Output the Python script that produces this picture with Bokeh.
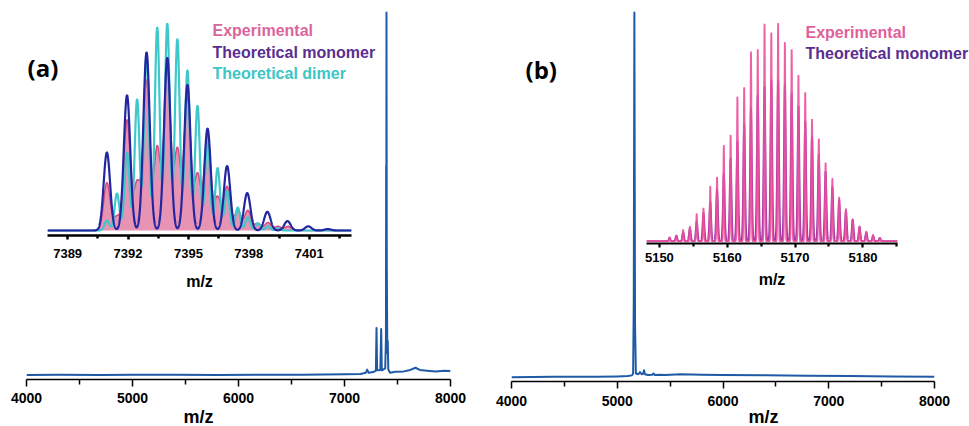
import numpy as np
from bokeh.plotting import figure
from bokeh.models import GridBox, Label, FixedTicker, Range1d
from bokeh.embed import file_html
from bokeh.resources import INLINE

# ---------------- data ----------------
# full-range spectra (relative intensity, %)
main_a_mz = [4000, 4300, 4700, 5000, 5400, 5800, 6200, 6600, 7000, 7150, 7200, 7214, 7228, 7270,
             7296, 7302, 7308, 7338, 7346, 7352, 7384, 7391, 7393, 7394.5, 7396, 7399,
             7404, 7408, 7413, 7430, 7480, 7560, 7620, 7670, 7710, 7780, 7860, 7940, 8000]
main_a_int = [0.0, 0.1, 0.0, 0.1, 0.1, 0.0, 0.1, 0.1, 0.2, 0.3, 0.6, 1.5, 0.6, 0.8,
              1.2, 13, 1.3, 1.4, 12.7, 1.3, 1.8, 10, 57.7, 25, 100, 30,
              6, 9.4, 1.5, 0.6, 0.9, 1.0, 1.4, 2.0, 1.4, 1.2, 1.0, 1.2, 1.1]

main_b_mz = [4000, 4400, 4800, 5000, 5100, 5140, 5150, 5156, 5162, 5168, 5176, 5200, 5215, 5230,
             5245, 5253, 5262, 5290, 5330, 5342, 5355, 5400, 5450, 5500, 5600, 5800, 6000,
             6400, 6800, 7200, 7600, 8000]
main_b_int = [0.0, 0.1, 0.1, 0.2, 0.3, 0.5, 1.0, 20, 100, 15, 1.0, 0.8, 1.4, 0.8,
              1.0, 1.9, 0.8, 0.6, 0.7, 1.0, 0.6, 0.7, 0.6, 0.7, 0.8, 0.7, 0.6,
              0.5, 0.4, 0.3, 0.2, 0.1]

main_ticks = [4000, 5000, 6000, 7000, 8000]
main_minor = [4500, 5500, 6500, 7500]

# inset (a): isotope peaks (centre m/z, relative height %)
a_exp_mz = [7390.95, 7391.45, 7391.95, 7392.45, 7392.92, 7393.45, 7393.95, 7394.45, 7394.95,
            7395.45, 7395.95, 7396.45, 7396.92, 7397.45, 7397.95, 7398.45, 7398.95, 7399.45, 7399.95]
a_exp_int = [23, 6.7, 53, 23, 72, 40, 78, 39, 64, 27, 46, 16, 21, 9.6, 9.6, 3.4, 3.8, 2, 2]

a_mono_mz = [7390.95, 7391.95, 7392.92, 7393.95, 7394.95, 7395.95, 7396.92, 7397.92,
             7398.92, 7399.92, 7400.95, 7401.92]
a_mono_int = [37.5, 65, 85.6, 83, 70, 49, 31, 18, 9, 4.5, 2, 0.7]

a_dimer_mz = [7390.95, 7391.45, 7391.95, 7392.45, 7392.92, 7393.45, 7393.95, 7394.45, 7394.95,
              7395.45, 7395.95, 7396.45, 7396.92, 7397.45, 7397.95, 7398.45, 7398.95, 7399.45]
a_dimer_int = [4.8, 17.8, 37.5, 63, 85, 97.6, 99.5, 92, 77, 60, 44, 30, 19, 11, 6.3, 3.4, 2, 1]

a_ticks = [7389, 7392, 7395, 7398, 7401]
a_minor = [7390.5, 7393.5, 7396.5, 7399.5, 7402.5]

# inset (b)
b_mz = [5151.5, 5152.5, 5153.5, 5154.5, 5155.5, 5156.5, 5157.5, 5158.5, 5159.5, 5160.5, 5161.5,
        5162.5, 5163.5, 5164.5, 5165.5, 5166.5, 5167.5, 5168.5, 5169.5, 5170.5, 5171.5, 5172.5,
        5173.5, 5174.5, 5175.5, 5176.5, 5177.5, 5178.5, 5179.5, 5180.5, 5181.5, 5182.5]
b_exp_int = [1.8, 2.6, 5.2, 6.7, 12.6, 15.2, 25.3, 29.4, 44, 48.6, 66.3, 70.6, 87, 88, 99.7, 95.7,
             100, 91.3, 88, 76.2, 68.3, 56, 47, 36, 28.7, 20.2, 14.9, 10, 6.9, 4.4, 2.9, 1.5]
b_theo_int = [1.5, 2.5, 4, 6, 9, 13, 18, 24, 31, 38, 46, 54, 61, 67, 71, 74, 74, 72, 68, 62, 55,
              48, 40, 32, 25, 19, 14, 10, 6.5, 4, 2.5, 1.5]

b_ticks = [5150, 5160, 5170, 5180]
b_minor = [5155, 5165, 5175, 5185]

# ---------------- helpers ----------------
FONT = "Liberation Sans"
BLUE_MAIN = "#1f5aa6"


def profile(grid, centres, heights, sigma):
    y = np.zeros_like(grid)
    for c, h in zip(centres, heights):
        y += h * np.exp(-0.5 * ((grid - c) / sigma) ** 2)
    return y


def style_axis(ax, ticks, minor, size, tick_out, minor_out, lw, standoff):
    ax.ticker = FixedTicker(ticks=ticks, minor_ticks=minor)
    ax.axis_line_color = "black"
    ax.axis_line_width = lw
    ax.major_tick_line_color = "black"
    ax.minor_tick_line_color = "black"
    ax.major_tick_line_width = lw
    ax.minor_tick_line_width = lw
    ax.major_tick_in = 0
    ax.minor_tick_in = 0
    ax.major_tick_out = tick_out
    ax.minor_tick_out = minor_out
    ax.major_label_text_font = FONT
    ax.major_label_text_font_style = "bold"
    ax.major_label_text_font_size = size
    ax.major_label_text_color = "black"
    ax.major_label_standoff = standoff


def base_fig(w, h, xr, yr, ml, mr, mt, mb, xaxis=True):
    p = figure(width=w, height=h, x_range=Range1d(*xr), y_range=Range1d(*yr), title=None,
               x_axis_type="linear" if xaxis else None, y_axis_type=None,
               toolbar_location=None, output_backend="svg",
               min_border_left=ml, min_border_right=mr, min_border_top=mt, min_border_bottom=mb)
    p.grid.visible = False
    p.outline_line_color = None
    p.background_fill_color = None
    p.border_fill_color = None
    return p


def inset_label(p, standoff):
    ax = p.xaxis[0]
    ax.axis_label = "m/z"
    ax.axis_label_text_font = FONT
    ax.axis_label_text_font_style = "bold"
    ax.axis_label_text_font_size = "16px"
    ax.axis_label_text_color = "black"
    ax.axis_label_standoff = standoff


# ---------------- panel (a) main ----------------
pa = base_fig(478, 426, (4000, 8000), (-1.24, 101.1), 26, 28, 8, 47)
pa.line(main_a_mz, main_a_int, line_color=BLUE_MAIN, line_width=2, line_join="round")
style_axis(pa.xaxis[0], main_ticks, main_minor, "14px", 7, 5, 1.5, 6)

# ---------------- panel (b) main ----------------
pb = base_fig(491, 426, (4000, 8000), (-1.18, 101.1), 33, 35, 8, 45)
pb.line(main_b_mz, main_b_int, line_color=BLUE_MAIN, line_width=2, line_join="round")
style_axis(pb.xaxis[0], main_ticks, main_minor, "14px", 7, 5, 1.5, 7)

# ---------------- inset (a) ----------------
ia = base_fig(340, 293, (7388, 7403.1), (-2.4, 102.9), 7, 29, 4, 70)
ga = np.linspace(7388, 7403.1, 3000)
exp_a = profile(ga, a_exp_mz, a_exp_int, 0.16)
ia.varea(ga, 0, exp_a, fill_color="#e68db0", fill_alpha=0.95)
ia.line(ga, exp_a, line_color="#d24c7e", line_width=1.5)
ia.line(ga, profile(ga, a_dimer_mz, a_dimer_int, 0.12), line_color="#3ec8ca", line_width=2.2)
ia.line(ga, profile(ga, a_mono_mz, a_mono_int, 0.16), line_color="#2226a0", line_width=2.2)
style_axis(ia.xaxis[0], a_ticks, a_minor, "13px", 4, 3, 2.5, 9)
inset_label(ia, 12)

# ---------------- inset (b) ----------------
ib = base_fig(270, 293, (5148.1, 5185.1), (-1.06, 103.07), 10, 9, 4, 62)
gb = np.linspace(5148.1, 5185.1, 6000)
ib.line(gb, profile(gb, b_mz, b_theo_int, 0.13), line_color="#9a35a6", line_width=1.8)
ib.line(gb, profile(gb, b_mz, b_exp_int, 0.07), line_color="#ec4f9c", line_width=1.8,
        line_alpha=0.9)
style_axis(ib.xaxis[0], b_ticks, b_minor, "13px", 4, 3, 2.2, 5)
inset_label(ib, 6)

# ---------------- text overlay (page pixel coordinates) ----------------
ov = base_fig(969, 426, (0, 969), (426, 0), 0, 0, 0, 0, xaxis=False)


def add_label(x, y, text, color="black", size="16px", font=FONT, align="left"):
    ov.add_layout(Label(x=x, y=y, text=text, text_color=color, text_font=font,
                        text_font_size=size, text_font_style="bold",
                        text_align=align, text_baseline="middle"))


add_label(27, 67, "(a)", size="24px", font="Open Sans")
add_label(525, 69, "(b)", size="24px", font="Open Sans")
add_label(212, 30, "Experimental", color="#d9669b")
add_label(212, 52, "Theoretical monomer", color="#5a2d91")
add_label(212, 73, "Theoretical dimer", color="#3cc6c6")
add_label(805, 32, "Experimental", color="#e0609c")
add_label(805, 53, "Theoretical monomer", color="#5a2d91")
add_label(198, 416, "m/z", size="18px", align="center")
add_label(763, 416, "m/z", size="18px", align="center")

# every figure gets its own grid lines (zero-width tracks) so frames are not aligned together
grid = GridBox(children=[(pa, 0, 0, 7, 4), (pb, 1, 5, 7, 3), (ia, 3, 2, 2, 1),
                         (ib, 4, 6, 2, 1), (ov, 2, 1, 7, 8)],
               rows=["0px", "0px", "12px", "0px", "293px", "0px", "121px", "0px", "0px"],
               cols=["0px", "40px", "340px", "98px", "0px", "158px", "270px", "63px", "0px"])

open("out.html", "w").write(file_html(grid, INLINE))
